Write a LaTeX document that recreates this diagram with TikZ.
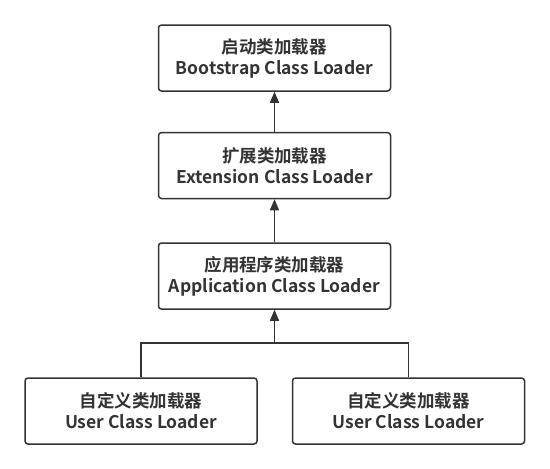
\documentclass[tikz,border=0pt]{standalone}
\usepackage{fontspec}
\usepackage{xcolor}
\usepackage{tikz}
\usetikzlibrary{arrows.meta,positioning}
\newfontfamily\cjk{Noto Sans CJK SC}[BoldFont={Noto Sans CJK SC Bold}]
\definecolor{ink}{HTML}{333333}

\begin{document}
\begin{tikzpicture}[
  x=1pt, y=-1pt,
  loader/.style={draw=ink, line width=1.5pt, rounded corners=3pt, minimum width=232pt,
    minimum height=66pt, align=center, text=ink, font=\cjk\bfseries\fontsize{17.5}{21}\selectfont},
  arrow/.style={-{Triangle[length=11pt,width=9pt]}, draw=ink, line width=1.5pt},
  link/.style={draw=ink, line width=1.5pt}
]
\useasboundingbox (0,0) rectangle (550,469);
\node[loader] (boot) at (274.5,58) {启动类加载器\\Bootstrap Class Loader};
\node[loader] (ext) at (274.5,165.5) {扩展类加载器\\Extension Class Loader};
\node[loader] (app) at (274.5,276) {应用程序类加载器\\Application Class Loader};
\node[loader] (user1) at (141,411) {自定义类加载器\\User Class Loader};
\node[loader] (user2) at (408.5,411) {自定义类加载器\\User Class Loader};
\coordinate (join) at (274.5,343);
\draw[arrow] (ext) -- (boot);
\draw[arrow] (app) -- (ext);
\draw[arrow] (user1.north) |- (join) -- (app.south);
\draw[link] (user2.north) |- (join);
\end{tikzpicture}
\end{document}
